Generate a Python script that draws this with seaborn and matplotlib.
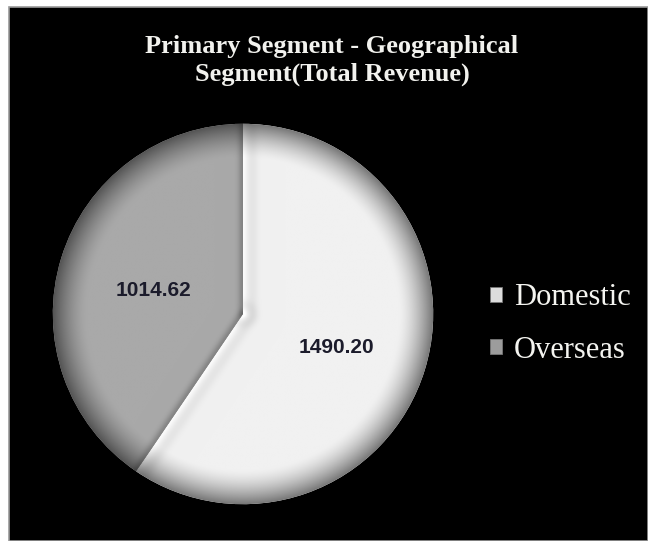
import numpy as np
import matplotlib
matplotlib.use("Agg")
import matplotlib.pyplot as plt
from matplotlib.patches import Rectangle, Patch
import seaborn as sns

# Revenue split by geography
segments = ["Domestic", "Overseas"]
revenue = [1490.20, 1014.62]
value_labels = ["1490.20", "1014.62"]

sns.set_theme(style="white")
plt.rcParams["font.family"] = ["Liberation Serif", "DejaVu Serif"]

W, H, DPI = 648, 541, 100
fig = plt.figure(figsize=(W / DPI, H / DPI), dpi=DPI, facecolor="white")

# black chart area with a thin grey frame
fig.patches.append(Rectangle((9 / W, 0), 1 - 9 / W, 1 - 7 / H, transform=fig.transFigure,
                             facecolor="black", edgecolor="#9a9a9a", linewidth=1.2, zorder=-5))

# pie axes
cx, cy, R = 243, 314, 194
ax = fig.add_axes([(cx - R) / W, (H - cy - R) / H, 2 * R / W, 2 * R / H], zorder=2)
ax.set_facecolor("none")
base_cols = ["#f1f1f1", "#a9a9a9"]
wedges, _ = ax.pie(revenue, startangle=90, counterclock=False, colors=base_cols,
                   radius=1.0, wedgeprops=dict(linewidth=0))
ax.set_xlim(-1.02, 1.02)
ax.set_ylim(-1.02, 1.02)
ax.set_aspect("equal")
ax.axis("off")

# bevel shading, clipped to each wedge
n = 500
xs = np.linspace(-1.02, 1.02, n)
X, Y = np.meshgrid(xs, xs[::-1])
Rr = np.hypot(X, Y)
rim = np.clip((Rr - 0.82) / 0.18, 0, 1) ** 1.5
theta_cum = np.cumsum([0] + revenue) / sum(revenue)
for i, w in enumerate(wedges):
    base = matplotlib.colors.to_rgb(base_cols[i])
    shade = 1 - 0.50 * rim
    for frac in (theta_cum[i], theta_cum[i + 1]):
        ang = np.deg2rad(90 - 360 * frac)
        ux, uy = np.cos(ang), np.sin(ang)
        t = np.clip(X * ux + Y * uy, 0, 1)
        d = np.hypot(X - t * ux, Y - t * uy)
        if i == 1:
            # shadow along the straight edges of the darker slice
            shade *= 1 - 0.22 * np.exp(-(d / 0.025) ** 2)
        else:
            # soft highlight along the straight edges of the lighter slice
            shade *= 1 + 0.05 * np.exp(-(d / 0.02) ** 2) - 0.05 * np.exp(-((d - 0.05) / 0.03) ** 2)
    img = np.dstack([np.clip(c * shade, 0, 1) for c in base])
    im = ax.imshow(img, extent=(-1.02, 1.02, -1.02, 1.02), zorder=3, interpolation="bilinear")
    im.set_clip_path(w)

# value labels inside slices
label_pos = [((338 - cx) / R, (cy - 348) / R), ((152 - cx) / R, (cy - 290) / R)]
for (lx, ly), txt in zip(label_pos, value_labels):
    ax.text(lx, ly, txt, ha="center", va="center", fontsize=15, fontweight="bold",
            family=["Liberation Sans", "DejaVu Sans"], color="#1b1b2b", zorder=5)

# title
fig.text(332 / W, 1 - 46 / H, "Primary Segment - Geographical", ha="center", va="center",
         fontsize=19, fontweight="bold", color="#f2f2ee")
fig.text(332 / W, 1 - 74 / H, "Segment(Total Revenue)", ha="center", va="center",
         fontsize=19, fontweight="bold", color="#f2f2ee")

# legend
handles = [Patch(facecolor=c, edgecolor="#777777", linewidth=0.6) for c in ["#dcdcdc", "#9c9c9c"]]
leg = fig.legend(handles, segments, loc="center left", bbox_to_anchor=(490 / W, 1 - 324 / H),
                 frameon=False, fontsize=22, labelcolor="#f4f4f0", handlelength=0.38,
                 handleheight=0.38, handletextpad=0.4, labelspacing=0.78, borderaxespad=0,
                 borderpad=0)

fig.savefig("out.png", dpi=DPI, facecolor="white")
